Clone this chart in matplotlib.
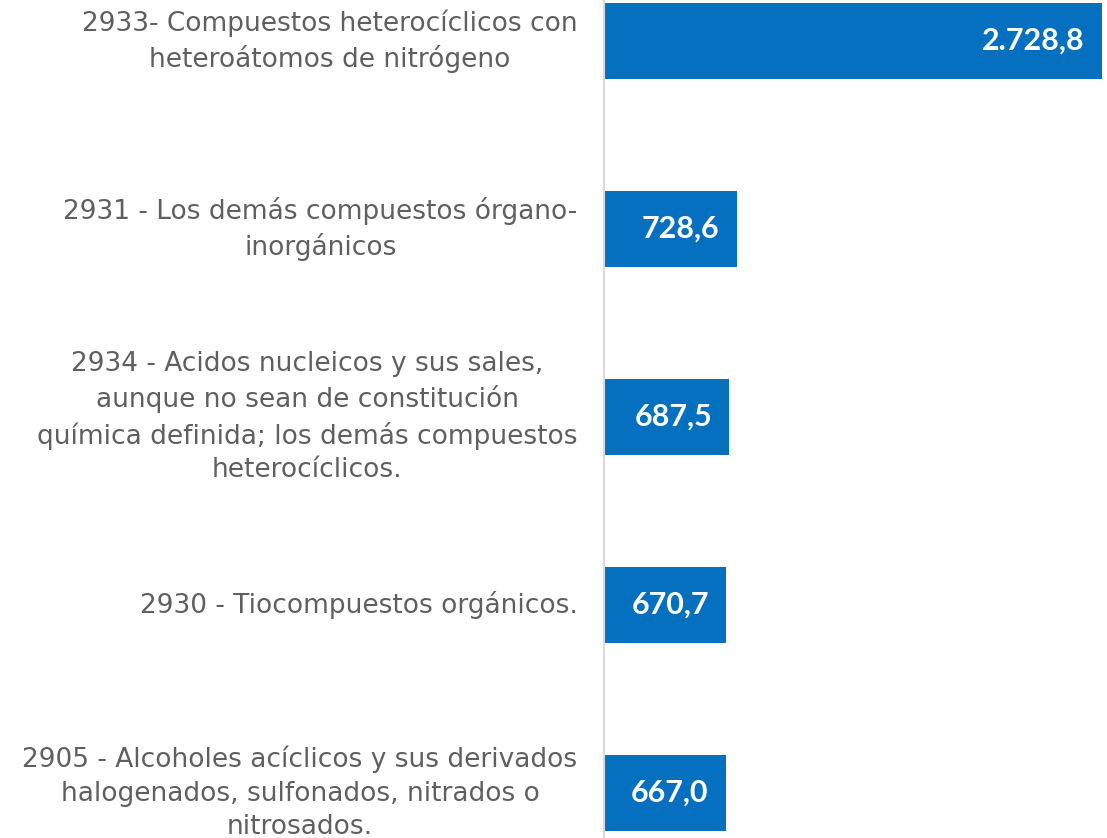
import numpy as np
import matplotlib.pyplot as plt

labels = [
    "2933- Compuestos heterocíclicos con\nheteroátomos de nitrógeno",
    "2931 - Los demás compuestos órgano-\ninorgánicos",
    "2934 - Acidos nucleicos y sus sales,\naunque no sean de constitución\nquímica definida; los demás compuestos\nheterocíclicos.",
    "2930 - Tiocompuestos orgánicos.",
    "2905 - Alcoholes acíclicos y sus derivados\nhalogenados, sulfonados, nitrados o\nnitrosados.",
]
values = [2728.8, 728.6, 687.5, 670.7, 667.0]
value_text = ["2.728,8", "728,6", "687,5", "670,7", "667,0"]

bar_color = "#0570C0"
text_color = "#5F5F5F"

fig = plt.figure(figsize=(11.07, 8.38), dpi=100)
ax = fig.add_axes([604 / 1107, 0, (1102 - 604) / 1107, 1])

y = np.arange(len(values))
ax.barh(y, values, height=0.40, color=bar_color)
ax.set_xlim(0, 2728.8)
ax.set_ylim(4.239, -0.218)

ax.set_yticks(y)
ax.set_yticklabels(labels, fontsize=19, color=text_color, linespacing=1.38,
                   multialignment="center", family="DejaVu Sans")
for lab in ax.get_yticklabels():
    lab.set_va("center")
ax.tick_params(axis="y", length=0, pad=19)
ax.set_xticks([])

for s in ["top", "right", "bottom"]:
    ax.spines[s].set_visible(False)
ax.spines["left"].set_color("#D9D9D9")
ax.spines["left"].set_linewidth(1.5)

for yi, v, t in zip(y, values, value_text):
    ax.text(v - 95, yi, t, ha="right", va="center", color="white",
            fontsize=22, fontweight="bold", family="Lato")

fig.savefig("out.png", dpi=100, facecolor="white")
